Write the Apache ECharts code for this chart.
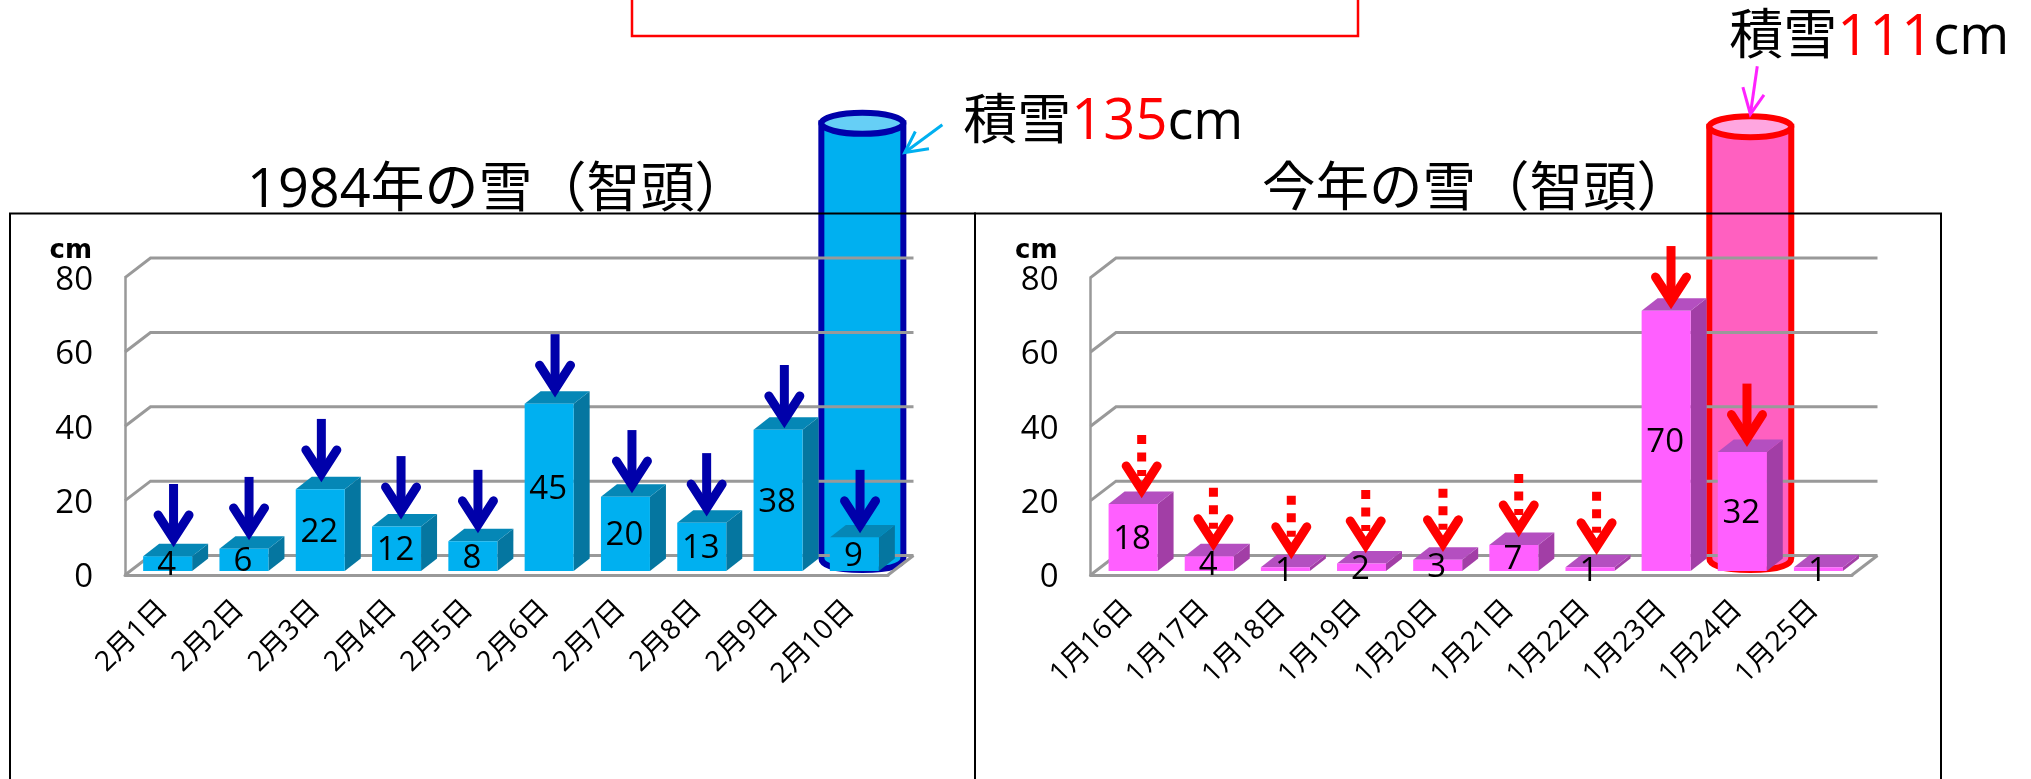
<!DOCTYPE html>
<html>
<head>
<meta charset="utf-8">
<style>html,body{margin:0;padding:0;background:#fff;overflow:hidden}#c{width:2031px;height:779px}</style>
<script src="https://cdn.jsdelivr.net/npm/echarts@6/dist/echarts.min.js"></script>
</head>
<body>
<div id="c"></div>
<script>
const yTicks = [0, 20, 40, 60, 80];
const catsLeft = ['2月1日','2月2日','2月3日','2月4日','2月5日','2月6日','2月7日','2月8日','2月9日','2月10日'];
const valuesLeft = [4, 6, 22, 12, 8, 45, 20, 13, 38, 9];
const arrowTipsLeft = [7, 8.9, 24.5, 14.5, 10.8, 47.3, 21.5, 15.3, 39, 10.8];
const titleLeft = '1984年の雪（智頭）';
const depthLeft = 135;
const cylinderTopLeft = 121.5;   // where the drawn cylinder's lid sits on the axis

const catsRight = ['1月16日','1月17日','1月18日','1月19日','1月20日','1月21日','1月22日','1月23日','1月24日','1月25日'];
const valuesRight = [18, 4, 1, 2, 3, 7, 1, 70, 32, 1];
const arrowTipsRight = [20.2, 6, 3.8, 5.4, 5.7, 9.7, 4.9, 71, 34, null];
const arrowSolidRight = [false, false, false, false, false, false, false, true, true, false];
const titleRight = '今年の雪（智頭）';
const depthRight = 111;
const cylinderTopRight = 120.6;

// layout only: how far each hand-placed arrow sits right of its category centre
const arrowShiftLeft = [10.4, 9.6, 5.6, 9, 9.6, 10.4, 11, 9.4, 10.8, 10.2];
const arrowShiftRight = [13.1, 8.7, 10.4, 8.7, 9.8, 9.4, 11.1, 9.4, 9.2, 0];

const FONT = '"Open Sans", "Noto Sans CJK JP", sans-serif';
const LABEL_SIZE = 33;

const blue = {front:'#00B0F0', side:'#0576A0', top:'#0587B6', arrow:'#0000AA',
  cylFill:'#00B0F0', cylStroke:'#0000AA', cylLid:'#66CFF6', call:'#00B0F0'};
const pink = {front:'#FF5FFF', side:'#A23EA6', top:'#B44FC0', arrow:'#FF0000',
  cylFill:'#FF60C0', cylStroke:'#FF0000', cylLid:'#FFA6E0', call:'#FF22FF'};

const DX = 25.5, DY = 19.5;            // wall depth
const BAR_SHIFT = 4.5, BAR_LIFT = 4, BAR_HALF = 24.5, BOX_DX = 16, BOX_DY = 12.5;
const ARROW_LEN = 65;

function wallItem(params, api) {
  const v = api.value(1), cs = params.coordSys;
  const y = api.coord([0, v])[1], x0 = cs.x, x1 = cs.x + cs.width;
  const kids = [{type:'polyline', shape:{points:[[x0,y],[x0+DX,y-DY],[x1+DX,y-DY]]},
    style:{stroke:'#999999', lineWidth:3, fill:null}}];
  if (v === 0) kids.push({type:'line', shape:{x1:x1,y1:y,x2:x1+DX,y2:y-DY},
    style:{stroke:'#999999', lineWidth:3}});
  return {type:'group', children:kids};
}

function barItem(theme) {
  return function (params, api) {
    const v = api.value(1);
    const base = api.coord([api.value(0), 0]), top = api.coord([api.value(0), v]);
    const xc = base[0] + BAR_SHIFT, yb = base[1] - BAR_LIFT, yt = top[1] - BAR_LIFT;
    const xl = xc - BAR_HALF, xr = xc + BAR_HALF;
    return {type:'group', children:[
      {type:'polygon', shape:{points:[[xr,yt],[xr+BOX_DX,yt-BOX_DY],[xr+BOX_DX,yb-BOX_DY],[xr,yb]]}, style:{fill:theme.side}},
      {type:'polygon', shape:{points:[[xl,yt],[xl+BOX_DX,yt-BOX_DY],[xr+BOX_DX,yt-BOX_DY],[xr,yt]]}, style:{fill:theme.top}},
      {type:'rect', shape:{x:xl,y:yt,width:BAR_HALF*2,height:yb-yt}, style:{fill:theme.front}},
      {type:'text', style:{x:xc-1,y:(yt+yb)/2+2,text:String(v),fill:'#000',font:LABEL_SIZE+'px '+FONT,textAlign:'center',textVerticalAlign:'middle'}}
    ]};
  };
}

function arrowItem(theme, solidFlags, shifts) {
  return function (params, api) {
    const i = api.value(0);
    const p = api.coord([i, api.value(1)]);
    const x = p[0] + shifts[i], tip = p[1];
    const solid = solidFlags ? solidFlags[i] : true;
    const s = {stroke:theme.arrow, lineWidth:9, fill:null};
    return {type:'group', children:[
      {type:'line', shape:{x1:x,y1:tip-ARROW_LEN,x2:x,y2:tip-(solid?10:24)},
        style:Object.assign({}, s, solid?{}:{lineDash:[9,8.5]})},
      {type:'polyline', shape:{points:[[x-15.5,tip-34],[x,tip-10],[x+15.5,tip-34]]},
        style:Object.assign({}, s, {lineCap:'round', lineJoin:'miter', miterLimit:10})}
    ]};
  };
}

function cylinderItem(theme, depth, call, txt) {
  return function (params, api) {
    const p = api.coord([api.value(0), api.value(1)]);
    const b = api.coord([api.value(0), 0]);
    const cx = p[0] + 12.5, ty = p[1], by = b[1] - 5, rx = 41, ry = 10.5;
    const path = 'M'+(cx-rx)+' '+ty+' L'+(cx-rx)+' '+(by-12)+
      ' C'+(cx-rx)+' '+(by-3)+' '+(cx-22)+' '+by+' '+cx+' '+by+
      ' C'+(cx+22)+' '+by+' '+(cx+rx)+' '+(by-3)+' '+(cx+rx)+' '+(by-12)+
      ' L'+(cx+rx)+' '+ty+' Z';
    const pt = q => [cx+q[0], ty+q[1]];
    const cs = {stroke:theme.call, lineWidth:3, fill:null};
    return {type:'group', children:[
      {type:'path', shape:{pathData:path}, style:{fill:theme.cylFill, stroke:theme.cylStroke, lineWidth:6}},
      {type:'ellipse', shape:{cx:cx,cy:ty,rx:rx,ry:ry}, style:{fill:theme.cylLid, stroke:theme.cylStroke, lineWidth:6}},
      {type:'polyline', shape:{points:[pt(call.tail),pt(call.tip)]}, style:cs},
      {type:'polyline', shape:{points:[pt(call.barbA),pt(call.tip),pt(call.barbB)]}, style:cs},
      {type:'text', style:{x:cx+txt[0], y:ty+txt[1], textAlign:'left', textVerticalAlign:'middle',
        text:'{k|積雪}{r|'+depth+'}{k|cm}',
        rich:{k:{fontSize:54,fontFamily:FONT,fill:'#000'}, r:{fontSize:56,fontFamily:FONT,fill:'#FF0000'}}}}
    ]};
  };
}

function frameItem() {
  return {type:'group', children:[
    {type:'rect', shape:{x:10,y:213.5,width:965,height:600}, style:{fill:null, stroke:'#000', lineWidth:2}},
    {type:'rect', shape:{x:975,y:213.5,width:966,height:600}, style:{fill:null, stroke:'#000', lineWidth:2}}
  ]};
}

function axes(idx, cats) {
  return {
    x: {type:'category', gridIndex:idx, data:cats, z:3,
      axisLine:{show:true, lineStyle:{color:'#999999', width:3}}, axisTick:{show:false},
      axisLabel:{rotate:45, interval:0, margin:30, color:'#000', fontSize:28, fontFamily:FONT}},
    y: {type:'value', gridIndex:idx, min:0, max:80, interval:20, z:3,
      name:'cm', nameLocation:'end', nameGap:26,
      nameTextStyle:{fontSize:26, fontWeight:'bold', fontFamily:'"DejaVu Sans", sans-serif', color:'#000', align:'right', verticalAlign:'middle', padding:[0,33,0,0]},
      axisLine:{show:true, lineStyle:{color:'#999999', width:2.5}}, axisTick:{show:false}, splitLine:{show:false},
      axisLabel:{margin:32, formatter:v => '{a|' + v + '}',
        rich:{a:{color:'#000', fontSize:LABEL_SIZE, fontFamily:FONT, padding:[6,0,0,0]}}}}
  };
}

function seriesFor(idx, vals, tips, theme, solid, shifts, cylCat, cylTop, depth, call, txt) {
  const common = {type:'custom', xAxisIndex:idx, yAxisIndex:idx, silent:true, clip:false, encode:{x:0,y:1}};
  return [
    Object.assign({}, common, {z:2, renderItem:cylinderItem(theme, depth, call, txt), data:[[cylCat, cylTop]]}),
    Object.assign({}, common, {z:3, renderItem:wallItem, data:yTicks.map(v => [0, v])}),
    Object.assign({}, common, {z:4, renderItem:barItem(theme), data:vals.map((v,i) => [i, v])}),
    Object.assign({}, common, {z:5, renderItem:arrowItem(theme, solid, shifts),
      data:tips.map((v,i) => [i, v]).filter(d => d[1] != null)})
  ];
}

const a0 = axes(0, catsLeft), a1 = axes(1, catsRight);
const chart = echarts.init(document.getElementById('c'), null, {renderer:'canvas'});
chart.setOption({
  animation:false,
  backgroundColor:'#fff',
  grid:[
    {left:125, width:763, top:277.6, height:297.4},
    {left:1090.5, width:761.5, top:277.6, height:297.4}
  ],
  xAxis:[a0.x, a1.x],
  yAxis:[a0.y, a1.y],
  graphic:{elements:[
    {type:'text', x:247, y:192, style:{text:titleLeft, font:'54px '+FONT, fill:'#000', textVerticalAlign:'middle'}, z2:1},
    {type:'text', x:1262, y:191, style:{text:titleRight, font:'53.5px '+FONT, fill:'#000', textVerticalAlign:'middle'}, z2:1},
    {type:'rect', shape:{x:10,y:213,width:1930,height:26}, style:{fill:'#fff'}, z2:2},
    {type:'rect', shape:{x:632,y:-10,width:726,height:46}, style:{fill:'#fff', stroke:'#FF0000', lineWidth:2.5}, z2:3}
  ]},
  series:[].concat(
    seriesFor(0, valuesLeft, arrowTipsLeft, blue, null, arrowShiftLeft, 9, cylinderTopLeft, depthLeft,
      {tail:[80,1.5], tip:[42.4,29.2], barbA:[53,8.2], barbB:[66.6,25.5]}, [101,0]),
    seriesFor(1, valuesRight, arrowTipsRight, pink, arrowSolidRight, arrowShiftRight, 8, cylinderTopRight, depthRight,
      {tail:[7,-60.5], tip:[0.1,-12.5], barbA:[-7.4,-39.5], barbB:[13.7,-31.9]}, [-21,-88]),
    [{type:'custom', coordinateSystem:'none', silent:true, z:6, renderItem:frameItem, data:[[0]]}]
  )
});
</script>
</body>
</html>
